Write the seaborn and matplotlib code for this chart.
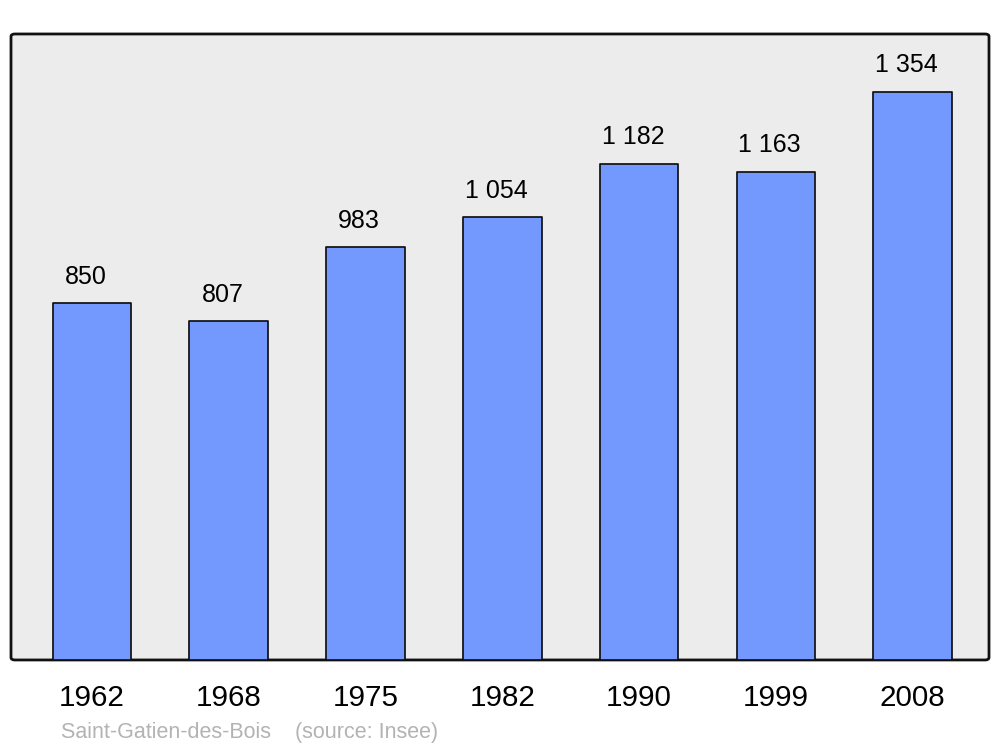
import matplotlib
matplotlib.use("Agg")
import matplotlib.pyplot as plt
import seaborn as sns
import pandas as pd
from matplotlib.patches import FancyBboxPatch

years = ["1962", "1968", "1975", "1982", "1990", "1999", "2008"]
population = [850, 807, 983, 1054, 1182, 1163, 1354]
value_labels = ["850", "807", "983", "1 054", "1 182", "1 163", "1 354"]
commune = "Saint-Gatien-des-Bois"
source = "(source: Insee)"

sns.set_theme(style="white")
plt.rcParams["font.family"] = ["Liberation Sans", "DejaVu Sans"]

df = pd.DataFrame({"year": years, "pop": population})

fig = plt.figure(figsize=(10, 7.47), dpi=100)
ax = fig.add_axes([0.011, 0.1165, 0.978, 0.838])
ax.set_facecolor("none")

# rounded background frame
frame = FancyBboxPatch((0, 0), 1, 1, boxstyle="round,pad=0,rounding_size=0.004",
                       transform=ax.transAxes, facecolor="#ececec", edgecolor="#111111",
                       linewidth=2.0, zorder=0, clip_on=False)
ax.add_patch(frame)

sns.barplot(data=df, x="year", y="pop", ax=ax, color="#7399ff", saturation=1,
            width=0.575, edgecolor="#111111", linewidth=1.25, zorder=2)
for p in ax.patches:
    if p is not frame:
        p.set_joinstyle("round")

ax.set_xlim(-0.592, 6.558)
ax.set_ylim(0, 1491)
for s in ax.spines.values():
    s.set_visible(False)
ax.set_yticks([])
ax.set_xlabel("")
ax.set_ylabel("")
ax.tick_params(axis="x", length=0, pad=17, labelsize=21.3, colors="black")

for i, (v, lab) in enumerate(zip(population, value_labels)):
    ax.annotate(lab, xy=(i, v), xytext=(-4.5, 14), textcoords="offset points",
                ha="center", va="baseline", fontsize=18, color="black", zorder=3)

fig.text(0.061, 1 - 738 / 747, commune + "    " + source, fontsize=15.5,
         color="#b3b3b3", ha="left", va="baseline")

fig.savefig("out.png", dpi=100)
